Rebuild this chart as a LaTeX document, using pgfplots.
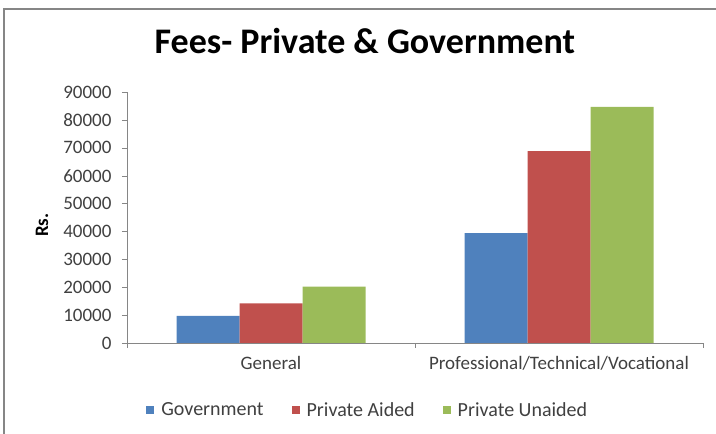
\documentclass[border=0pt]{standalone}
\usepackage{fontspec}
\setmainfont{Carlito}
\usepackage{pgfplots}
\pgfplotsset{compat=1.18}

\definecolor{xlblue}{HTML}{4F81BD}
\definecolor{xlred}{HTML}{C0504D}
\definecolor{xlgreen}{HTML}{9BBB59}
\definecolor{axgray}{HTML}{868686}

\begin{document}
\begin{tikzpicture}
  \begin{axis}[
    at={(127bp,91bp)}, anchor=south west,
    scale only axis,
    width=576bp, height=251bp,
    ybar=0pt,
    bar width=63bp,
    xmin=0, xmax=2,
    ymin=0, ymax=90000,
    xtick={0,1,2},
    xticklabels={General,Professional/Technical/Vocational},
    x tick label as interval,
    ytick={0,10000,...,90000},
    scaled y ticks=false,
    /pgf/number format/assume math mode=true,
    /pgf/number format/.cd, fixed, 1000 sep={}, /pgfplots/.cd,
    tick label style={font=\fontsize{19bp}{21bp}\selectfont, text=black!75},
    yticklabel style={xshift=-7bp},
    xticklabel style={yshift=-5bp},
    axis x line=bottom, axis y line=left,
    axis line style={axgray, -},
    tick style={axgray},
    tick align=outside,
    major tick length=5bp,
    title={Fees- Private \& Government},
    title style={font=\fontsize{36bp}{39bp}\selectfont\bfseries,
      at={(axis description cs:0.413,1)}, yshift=45bp, anchor=center},
    ylabel={Rs.},
    every axis y label/.style={at={(axis description cs:0,0.47)}, xshift=-85bp,
      rotate=90, anchor=center, font=\fontsize{19bp}{21bp}\selectfont\bfseries},
    legend columns=3,
    legend style={at={(axis description cs:0.418,0)}, anchor=center, yshift=-67bp,
      draw=none, font=\fontsize{20bp}{22bp}\selectfont, text=black!75,
      /tikz/every even column/.append style={column sep=26bp}},
    legend image code/.code={\fill[#1] (0bp,-4bp) rectangle (8bp,4bp);
      \path (13bp,0bp);},
  ]
    \addplot[fill=xlblue, draw=none] coordinates {(0.5,9700) (1.5,39400)};
    \addlegendentry{Government}
    \addplot[fill=xlred, draw=none] coordinates {(0.5,14200) (1.5,68800)};
    \addlegendentry{Private Aided}
    \addplot[fill=xlgreen, draw=none] coordinates {(0.5,20200) (1.5,84700)};
    \addlegendentry{Private Unaided}
  \end{axis}
  \draw[axgray, line width=1.5bp] (4bp,0bp) -- (4bp,425bp) -- (716bp,425bp);
  \pgfresetboundingbox
  \path (0bp,0bp) rectangle (716bp,434bp);
\end{tikzpicture}
\end{document}
